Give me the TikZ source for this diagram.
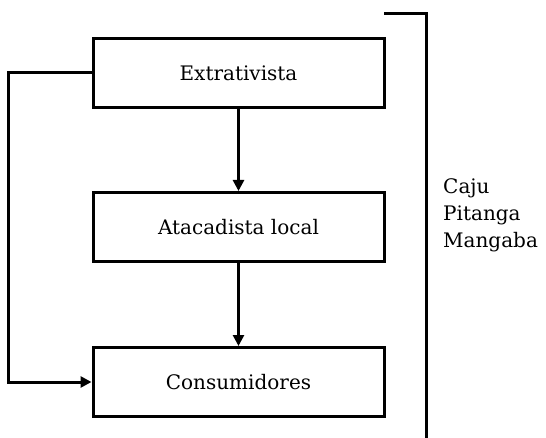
\documentclass[tikz,border=0pt]{standalone}
\usepackage{fontspec}
\setmainfont{DejaVu Serif}
\usetikzlibrary{arrows.meta}
\begin{document}
\begin{tikzpicture}[x=1pt,y=-1pt,
  box/.style={draw, line width=3pt, minimum width=291pt, minimum height=69pt, inner sep=0pt, font=\fontsize{20}{24}\selectfont},
  conn/.style={line width=2.6pt, -{Triangle[length=11pt,width=11pt]}},
  plain/.style={line width=3pt}]
\useasboundingbox (0,0) rectangle (546,438);
\node[box] (ext) at (238.5,73) {Extrativista};
\node[box] (ata) at (238.5,227) {Atacadista local};
\node[box] (con) at (238.5,382) {Consumidores};
\draw[conn] (ext) -- (ata);
\draw[conn] (ata) -- (con);
\coordinate (lc) at (8.5,72.5);
\draw[conn, line width=3pt] (ext.west) ++(0,-0.5) -- (lc) |- (con.west);
\coordinate (bl) at (384,14);
\coordinate (br) at (426,14);
\coordinate (bb) at (426,440);
\draw[plain] (bl) -- (br) -- (bb);
\node[anchor=west, align=left, font=\fontsize{20}{27}\selectfont, inner sep=0pt] (fr) at (443,215) {Caju\\Pitanga\\Mangaba};
\end{tikzpicture}
\end{document}
